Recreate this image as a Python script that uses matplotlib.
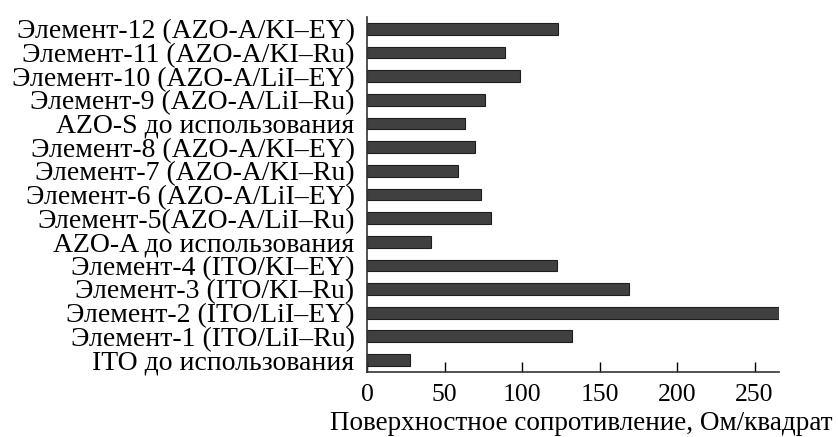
import matplotlib.pyplot as plt
import numpy as np

plt.rcParams['font.family'] = ['Liberation Serif', 'DejaVu Serif']

# listed bottom to top
samples = [
    'ITO до использования',
    'Элемент-1 (ITO/LiI–Ru)',
    'Элемент-2 (ITO/LiI–EY)',
    'Элемент-3 (ITO/KI–Ru)',
    'Элемент-4 (ITO/KI–EY)',
    'AZO-A до использования',
    'Элемент-5(AZO-A/LiI–Ru)',
    'Элемент-6 (AZO-A/LiI–EY)',
    'Элемент-7 (AZO-A/KI–Ru)',
    'Элемент-8 (AZO-A/KI–EY)',
    'AZO-S до использования',
    'Элемент-9 (AZO-A/LiI–Ru)',
    'Элемент-10 (AZO-A/LiI–EY)',
    'Элемент-11 (AZO-A/KI–Ru)',
    'Элемент-12 (AZO-A/KI–EY)',
]
resistance = [28, 132.5, 266, 169, 122.5, 41, 80, 73.5, 59, 69.5, 63, 76, 98.5, 89, 123]
x_ticks = [0, 50, 100, 150, 200, 250]

fig = plt.figure(figsize=(8.38, 4.37), dpi=100)
ax = fig.add_axes([0.438, 0.149, 0.492, 0.812])

y = np.arange(len(samples))
ax.barh(y, resistance, height=0.5, color='#404040', edgecolor='#1e1e1e', linewidth=0.8)

ax.set_xlim(0, 266)
ax.set_ylim(-0.5, len(samples) - 0.5)
ax.set_xticks(x_ticks)
ax.set_yticks(y)
ax.set_yticklabels(samples)
ax.tick_params(axis='x', direction='in', length=7, width=1, labelsize=18.5, pad=9)
ax.tick_params(axis='y', length=0, labelsize=20, pad=9)

for side in ('top', 'right'):
    ax.spines[side].set_visible(False)
for side in ('left', 'bottom'):
    ax.spines[side].set_linewidth(1.2)
    ax.spines[side].set_color('#333333')

fig.text(0.994, 0.016, 'Поверхностное сопротивление, Ом/квадрат',
         ha='right', va='baseline', fontsize=19.5)

fig.savefig('out.png', dpi=100)
